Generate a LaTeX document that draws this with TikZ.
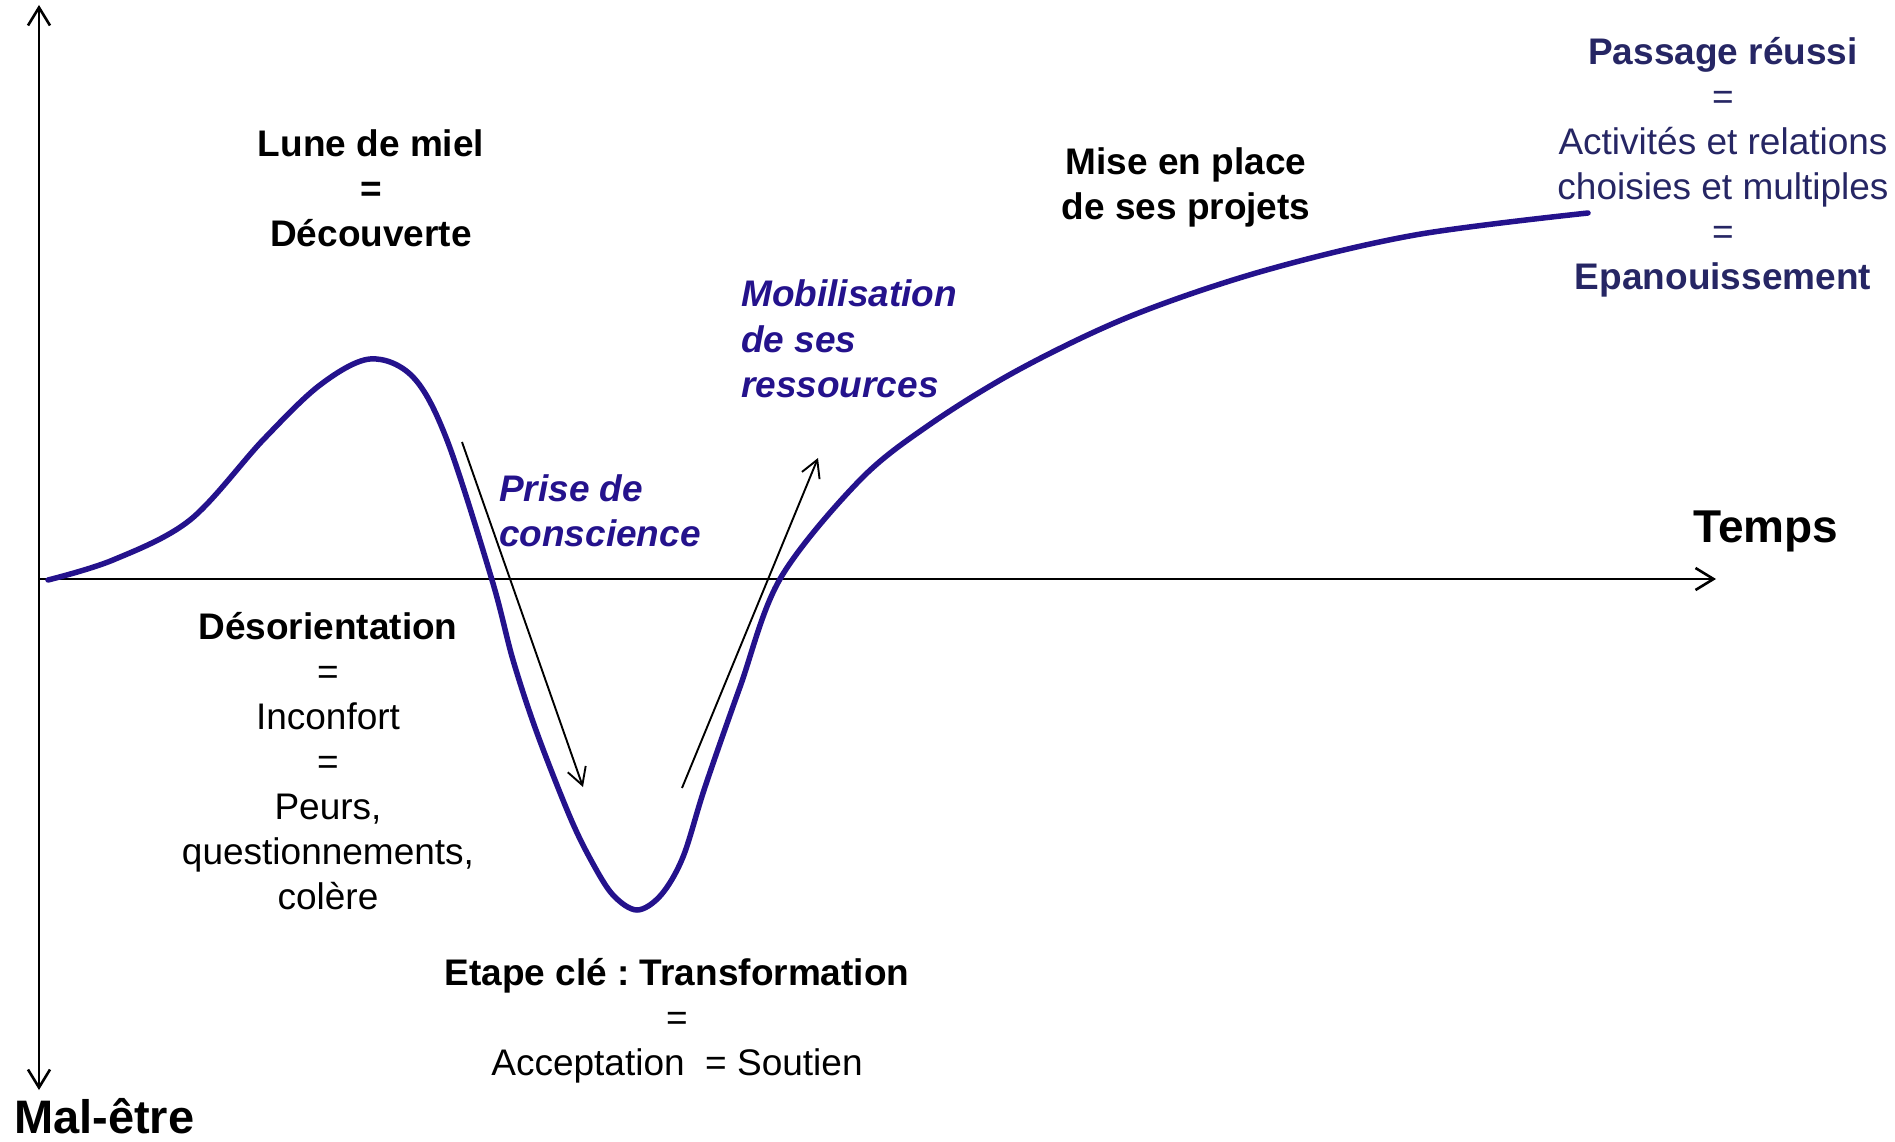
\documentclass[tikz,border=0pt]{standalone}
\usepackage{fontspec}
\setmainfont{Liberation Sans}
\usetikzlibrary{arrows.meta}
\definecolor{curveblue}{RGB}{36,18,140}
\definecolor{navy}{RGB}{38,38,100}
\frenchspacing
\tikzset{
  axis/.style={line width=2.6pt,-{Straight Barb[length=18pt,width=22pt,line width=2.6pt]}},
  thinarrow/.style={line width=1.9pt,-{Straight Barb[length=17pt,width=19pt,line width=1.9pt]}},
  curve/.style={line width=5.5pt,color=curveblue,line cap=round},
  lbl/.style={inner sep=0pt,align=center,font=\fontsize{37}{45}\selectfont},
  ilbl/.style={inner sep=0pt,align=left,font=\fontsize{37}{45.5}\selectfont\bfseries\itshape,text=curveblue},
}
\begin{document}
\begin{tikzpicture}[x=1pt,y=-1pt]
\useasboundingbox (0,0) rectangle (1895,1142);
% axes
\coordinate (ytop) at (39,5);
\coordinate (ybot) at (39,1090);
\coordinate (xo) at (39,579);
\coordinate (xend) at (1716,579);
\draw[axis] (xo) -- (ytop);
\draw[axis] (xo) -- (ybot);
\draw[axis] (xo) -- (xend);
% curve
\draw[curve] plot[smooth,tension=0.55] coordinates {
 (48,580) (113,560) (190,520) (263,440) (320,385) (370,359) (413,377) (447,440)
 (492,580) (513,660) (537,733) (570,817) (592,862) (613,895) (637,910) (661,895)
 (683,857) (705,787) (740,687) (780,579) (859,481) (929,425) (1020,369) (1131,316)
 (1263,271) (1415,235) (1588,213)};
% thin arrows
\coordinate (d1) at (462,442);
\coordinate (d2) at (583,787);
\coordinate (u1) at (682,788);
\coordinate (u2) at (818,458);
\draw[thinarrow] (d1) -- (d2);
\draw[thinarrow] (u1) -- (u2);
% labels
\node[lbl] (lune) at (371,188) {\bfseries Lune de miel\\\bfseries =\\\bfseries Découverte};
\node[lbl] (mise) at (1186,187.5) {\bfseries Mise en place\\\bfseries de ses projets};
\node[lbl,text=navy] (passage) at (1723,167) {\bfseries Passage réussi\\=\\Activités et relations\\choisies et multiples\\=\\\bfseries Epanouissement};
\node[ilbl,anchor=west] (mobil) at (741,339) {Mobilisation\\de ses\\ressources};
\node[ilbl,anchor=west] (prise) at (499,511) {Prise de\\conscience};
\node[lbl,font=\fontsize{46}{50}\selectfont\bfseries] (temps) at (1766,531) {Temps};
\node[lbl,font=\fontsize{47}{50}\selectfont\bfseries,anchor=base west] (mal) at (14,1133) {Mal-être};
\node[lbl] (deso) at (328,761) {\bfseries Désorientation\\=\\Inconfort\\=\\Peurs,\\questionnements,\\colère};
\node[lbl] (etape) at (677,1021) {\bfseries Etape clé : Transformation\\=\\Acceptation\ \ = Soutien};
\end{tikzpicture}
\end{document}
